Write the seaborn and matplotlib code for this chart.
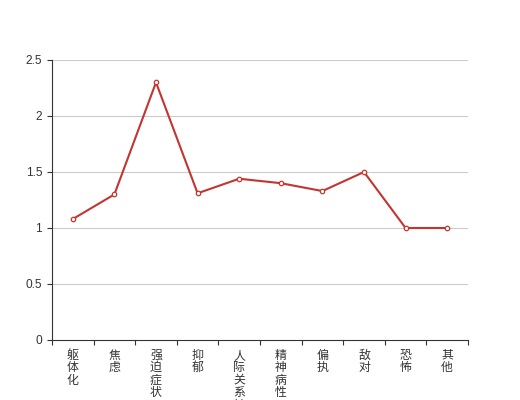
import pandas as pd
import seaborn as sns
import matplotlib.pyplot as plt
from matplotlib.ticker import FixedLocator

categories = ['躯体化', '焦虑', '强迫症状', '抑郁', '人际关系敏感', '精神病性', '偏执', '敌对', '恐怖', '其他']
scores = [1.08, 1.30, 2.30, 1.31, 1.44, 1.40, 1.33, 1.50, 1.00, 1.00]
y_ticks = [0, 0.5, 1, 1.5, 2, 2.5]
y_labels = ['0', '0.5', '1', '1.5', '2', '2.5']

sns.set_style('white')
plt.rcParams['font.family'] = ['Liberation Sans', 'Noto Sans CJK SC', 'DejaVu Sans']

df = pd.DataFrame({'pos': range(len(categories)), 'score': scores})

fig = plt.figure(figsize=(5.2, 4.0), dpi=100)
ax = fig.add_axes([0.1, 0.15, 0.8, 0.7])

for y in y_ticks[1:]:
    ax.axhline(y, color='#cccccc', linewidth=0.8, zorder=0)

sns.lineplot(data=df, x='pos', y='score', ax=ax, color='#c23531', linewidth=1.5,
             marker='o', markersize=3.2, markerfacecolor='white',
             markeredgecolor='#c23531', markeredgewidth=0.9, zorder=3)

ax.set_xlim(-0.5, len(categories) - 0.5)
ax.set_ylim(0, 2.5)
ax.set_xlabel('')
ax.set_ylabel('')

ax.set_xticks(range(len(categories)))
ax.set_xticklabels(['\n'.join(c) for c in categories], fontsize=8.6,
                   color='#333333', linespacing=1.05, va='top')
ax.xaxis.set_minor_locator(FixedLocator([i - 0.5 for i in range(len(categories) + 1)]))
ax.tick_params(axis='x', which='major', length=0, pad=7)
ax.tick_params(axis='x', which='minor', length=3.6, width=0.8, color='#333333', direction='out', bottom=True)

ax.set_yticks(y_ticks)
ax.set_yticklabels(y_labels, fontsize=8.6, color='#333333')
ax.tick_params(axis='y', length=3.6, width=0.8, color='#333333', direction='out', left=True, pad=3.5)

for side in ['top', 'right']:
    ax.spines[side].set_visible(False)
for side in ['left', 'bottom']:
    ax.spines[side].set_color('#333333')
    ax.spines[side].set_linewidth(0.8)

fig.savefig('out.png', dpi=100)
